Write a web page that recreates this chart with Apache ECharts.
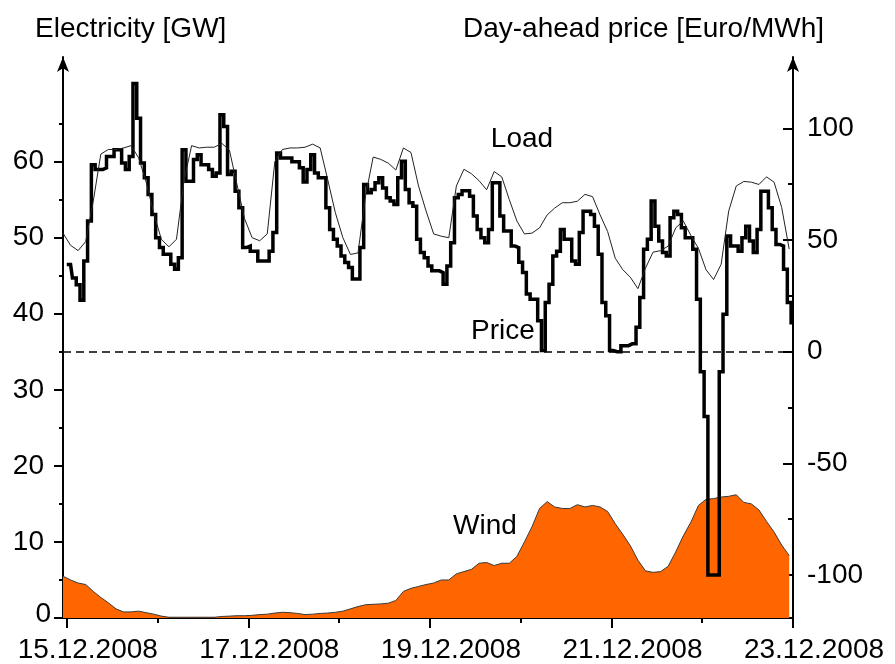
<!DOCTYPE html>
<html><head><meta charset="utf-8">
<script src="https://cdn.jsdelivr.net/npm/echarts@6/dist/echarts.min.js"></script>
<style>html,body{margin:0;padding:0;background:#fff}#c{width:895px;height:664px}</style>
</head><body><div id="c"></div>
<script>
// ---- data ----
const dateLabels = ['15.12.2008','16.12.2008','17.12.2008','18.12.2008','19.12.2008','20.12.2008','21.12.2008','22.12.2008','23.12.2008'];
const labeledDayHours = [0, 48, 96, 144, 192];
const unlabeledDayHours = [24, 72, 120, 168];
const leftTicks = [0, 10, 20, 30, 40, 50, 60];
const leftMinorTicks = [5, 15, 25, 35, 45, 55, 65];
const rightTicks = [-100, -50, 0, 50, 100];
const rightMinorTicks = [-75, -25, 25, 75];

// load and wind sampled every 2 hours, starting at hour -1 (relative to 15.12.2008 00:00)
const SAMPLE_START_HOUR = -1;
const SAMPLE_STEP_HOURS = 2;
const loadGW = [
  50.6, 49.0, 48.3, 49.5, 54.8, 61.0, 61.6, 61.6, 61.8, 62.1,
  60.5, 57.3, 53.2, 49.8, 48.8, 49.8, 57.5, 62.1, 61.8, 61.9,
  61.9, 62.4, 61.5, 57.0, 52.5, 50.0, 49.6, 50.5, 60.0, 61.6,
  61.8, 61.8, 61.9, 62.3, 61.8, 57.6, 53.3, 50.0, 47.8, 48.0,
  55.5, 60.6, 60.3, 59.8, 58.9, 61.8, 61.2, 56.8, 53.5, 50.5,
  50.2, 50.0, 56.8, 59.0, 58.4, 57.5, 56.3, 58.7, 58.0, 55.0,
  52.2, 50.5, 50.6, 51.3, 53.0, 53.9, 54.6, 54.6, 54.8, 55.7,
  55.4, 53.0, 50.8, 47.3, 45.8, 44.8, 43.3, 46.0, 48.1, 48.3,
  48.9, 51.3, 52.2, 50.3, 48.6, 45.8, 44.5, 46.5, 53.5, 56.8,
  57.4, 57.3, 57.0, 58.0, 57.3, 54.0, 48.5
];
const windGW = [
  5.5, 5.0, 4.6, 4.4, 3.5, 2.7, 2.0, 1.2, 0.8, 0.8,
  0.9, 0.7, 0.5, 0.25, 0.1, 0.1, 0.1, 0.1, 0.1, 0.1,
  0.1, 0.2, 0.25, 0.3, 0.3, 0.35, 0.45, 0.5, 0.65, 0.75,
  0.7, 0.6, 0.45, 0.5, 0.6, 0.65, 0.75, 0.9, 1.2, 1.5,
  1.75, 1.8, 1.85, 1.95, 2.3, 3.5, 3.9, 4.15, 4.4, 4.6,
  5.0, 5.0, 5.8, 6.1, 6.4, 7.2, 7.3, 6.9, 7.2, 7.2,
  8.1, 10.0, 12.0, 14.4, 15.3, 14.6, 14.4, 14.4, 14.9, 14.6,
  14.8, 14.6, 14.0, 12.4, 11.0, 9.5, 7.6, 6.2, 6.0, 6.1,
  6.8, 8.7, 10.8, 12.6, 14.8, 15.6, 15.7, 15.9, 16.0, 16.2,
  15.2, 15.0, 14.2, 12.7, 11.3, 9.6, 8.2
];
// hourly day-ahead price, hour 0 .. 192
const PRICE_START_HOUR = 0;
const priceEUR = [
  39, 39, 33, 30, 23, 40.6, 58.5, 83.7, 81.5, 81.5,
  82.3, 87.4, 87.4, 90.4, 90.4, 84.5, 81.5, 87.4, 120, 104.5,
  84.5, 77.8, 70.4, 61.4, 51, 46.6, 43.6, 43.6, 39.1, 36.9,
  42.1, 90.4, 76.3, 76.3, 86, 88.2, 83.7, 83.7, 81.5, 78.5,
  80, 106, 100.8, 79.3, 80.8, 71.8, 64.4, 46.6, 47.3, 45,
  45, 40.6, 40.6, 40.6, 45, 53.3, 88.9, 86.7, 86.7, 86.7,
  85, 85, 82.3, 76, 81.5, 88.2, 80, 77.8, 77.8, 64.4,
  54.7, 50.3, 47.3, 42.8, 39.9, 37.7, 32.5, 32.5, 46.6, 74.8,
  71.1, 72.6, 75.6, 77.8, 73.3, 68.9, 67.4, 65.9, 77.8, 85.2,
  72.6, 66.7, 65.1, 50.3, 44.4, 42, 38.4, 36.2, 36.2, 35.4,
  30.2, 38.4, 48.8, 68.9, 70.4, 72, 72, 69.6, 60.7, 54.7,
  51, 48.8, 54.7, 75.6, 75.6, 60.7, 54, 54, 47.3, 46.6,
  40, 35.4, 25.8, 23.5, 23.5, 13.9, 0.5, 22, 30.2, 42.8,
  45, 54.7, 50.3, 50.3, 40.6, 39.1, 53.3, 62.9, 62.9, 61.4,
  56.2, 43.6, 22, 16.1, 0.5, 0, 0, 2.7, 2.7, 3.5,
  3.5, 10.9, 24.3, 45.8, 50.3, 67.4, 56.2, 49.5, 44.4, 42.8,
  60, 62.9, 61.4, 55.5, 51, 51, 45.8, 23.5, -9, -29,
  -100, -100, -100, -9, 16.8, 51.8, 47.3, 47.3, 45, 51,
  56.2, 49.5, 44.4, 54.7, 71.8, 71.8, 64.4, 54.7, 48, 47.3,
  36.9, 22, 13
];
const PRICE_ZERO_LINE = 0;

// ---- chart ----
const FONT = 'Liberation Sans, Arial, Helvetica, sans-serif';
const X_MIN = -1, X_MAX = 192;
const LEFT_MIN = 0, LEFT_MAX = 73.76;
const RIGHT_MIN = -119.2, RIGHT_MAX = 131.9;
const TICK_FONT = 28;

const toPairs = (arr, start, step) => arr.map((v, i) => [start + i * step, v]);

const chart = echarts.init(document.getElementById('c'), null, {renderer: 'canvas'});
const black = '#000';
const axisLineStyle = {color: black, width: 2};

chart.setOption({
  animation: false,
  backgroundColor: '#fff',
  grid: {left: 63, right: 102, top: 57, bottom: 44, containLabel: false},
  xAxis: [
    {
      type: 'value', min: X_MIN, max: X_MAX, position: 'bottom',
      axisLine: {show: true, onZero: false, lineStyle: axisLineStyle},
      axisTick: {show: true, customValues: labeledDayHours, length: 10, lineStyle: axisLineStyle},
      axisLabel: {
        show: true, customValues: labeledDayHours, margin: 18, color: black,
        fontFamily: FONT, fontSize: TICK_FONT, padding: [0, 0, 0, 42],
        formatter: v => dateLabels[Math.round(v / 24)]
      },
      splitLine: {show: false}
    },
    {
      type: 'value', min: X_MIN, max: X_MAX, position: 'bottom',
      axisLine: {show: false, onZero: false},
      axisTick: {show: true, customValues: unlabeledDayHours, length: 5, lineStyle: axisLineStyle},
      axisLabel: {show: false},
      splitLine: {show: false}
    }
  ],
  yAxis: [
    {
      type: 'value', min: LEFT_MIN, max: LEFT_MAX, position: 'left',
      axisLine: {show: true, onZero: false, lineStyle: axisLineStyle, symbol: ['none', 'arrow'], symbolSize: [9, 15]},
      axisTick: {show: true, customValues: leftTicks, length: 9, lineStyle: axisLineStyle},
      axisLabel: {
        show: true, customValues: leftTicks, margin: 12, color: black,
        fontFamily: FONT, fontSize: TICK_FONT,
        formatter: v => v === 0 ? '{z|0}' : '{n|' + v + '}',
        rich: {
          n: {fontFamily: FONT, fontSize: TICK_FONT, color: black, padding: [0, 7, 0, 0]},
          z: {fontFamily: FONT, fontSize: TICK_FONT, color: black, padding: [0, 0, 8, 0]}
        }
      },
      splitLine: {show: false}
    },
    {
      type: 'value', min: RIGHT_MIN, max: RIGHT_MAX, position: 'right',
      axisLine: {show: true, onZero: false, lineStyle: axisLineStyle, symbol: ['none', 'arrow'], symbolSize: [9, 15]},
      axisTick: {show: true, inside: true, customValues: rightTicks, length: 10, lineStyle: axisLineStyle},
      axisLabel: {
        show: true, customValues: rightTicks, margin: 14, color: black,
        fontFamily: FONT, fontSize: TICK_FONT
      },
      splitLine: {show: false}
    },
    {
      type: 'value', min: LEFT_MIN, max: LEFT_MAX, position: 'left',
      axisLine: {show: false, onZero: false},
      axisTick: {show: true, customValues: leftMinorTicks, length: 4, lineStyle: axisLineStyle},
      axisLabel: {show: false},
      splitLine: {show: false}
    },
    {
      type: 'value', min: RIGHT_MIN, max: RIGHT_MAX, position: 'right',
      axisLine: {show: false, onZero: false},
      axisTick: {show: true, inside: true, customValues: rightMinorTicks, length: 5, lineStyle: axisLineStyle},
      axisLabel: {show: false},
      splitLine: {show: false}
    }
  ],
  series: [
    {
      name: 'Wind', type: 'line', xAxisIndex: 0, yAxisIndex: 0,
      data: toPairs(windGW, SAMPLE_START_HOUR, SAMPLE_STEP_HOURS),
      symbol: 'none', smooth: false, z: 1,
      lineStyle: {color: '#3a3a3a', width: 1},
      areaStyle: {color: '#FF6600', opacity: 1}
    },
    {
      name: 'Price', type: 'line', xAxisIndex: 0, yAxisIndex: 1,
      data: toPairs(priceEUR, PRICE_START_HOUR, 1),
      step: 'middle', symbol: 'none', z: 3,
      lineStyle: {color: black, width: 3.5, join: 'miter', cap: 'butt'},
      markLine: {
        silent: true, symbol: ['none', 'none'], label: {show: false},
        lineStyle: {color: black, width: 1.5, type: [8, 5]},
        data: [{yAxis: PRICE_ZERO_LINE}]
      }
    },
    {
      name: 'Load', type: 'line', xAxisIndex: 0, yAxisIndex: 0,
      data: toPairs(loadGW, SAMPLE_START_HOUR, SAMPLE_STEP_HOURS),
      symbol: 'none', smooth: false, z: 4,
      lineStyle: {color: '#222', width: 1}
    }
  ],
  graphic: [
    {type: 'text', x: 35, y: 29, style: {text: 'Electricity [GW]', fontFamily: FONT, fontSize: 28, fill: black, align: 'left', verticalAlign: 'middle'}},
    {type: 'text', x: 463, y: 29, style: {text: 'Day-ahead price [Euro/MWh]', fontFamily: FONT, fontSize: 28, fill: black, align: 'left', verticalAlign: 'middle'}},
    {type: 'text', x: 522, y: 139, z: 10, style: {text: 'Load', fontFamily: FONT, fontSize: 28, fill: black, align: 'center', verticalAlign: 'middle'}},
    {type: 'text', x: 503, y: 331, z: 10, style: {text: 'Price', fontFamily: FONT, fontSize: 28, fill: black, align: 'center', verticalAlign: 'middle'}},
    {type: 'text', x: 485, y: 526, z: 10, style: {text: 'Wind', fontFamily: FONT, fontSize: 28, fill: black, align: 'center', verticalAlign: 'middle'}}
  ]
});
</script>
</body></html>
